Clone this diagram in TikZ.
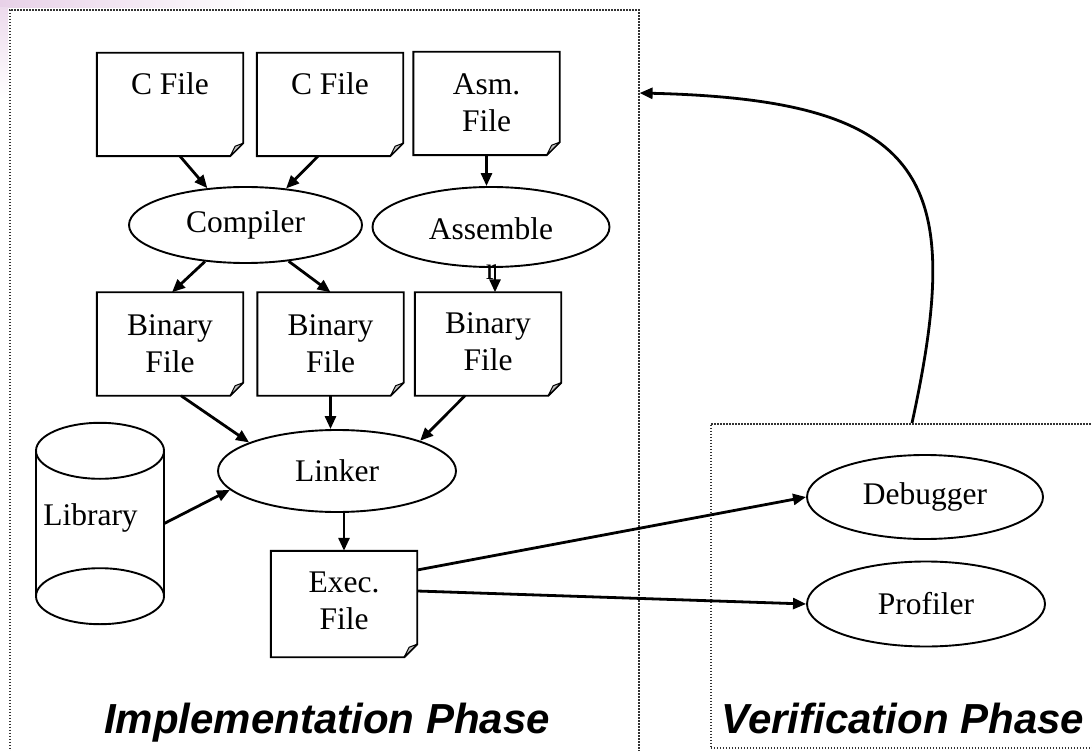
\documentclass[tikz,border=0pt]{standalone}
\usepackage{fontspec}
\setmainfont{Liberation Serif}
\newfontfamily\phasefont{Liberation Sans}
\usetikzlibrary{arrows.meta,shapes.geometric,calc}

\tikzset{
  txt/.style={font=\fontsize{31.5}{37}\selectfont, align=center, inner sep=0pt},
  docbox/.style={draw=none, minimum width=146pt, minimum height=103pt, inner sep=0pt},
  docline/.style={line width=1.9pt, line join=miter},
  proc/.style={ellipse, draw, line width=1.9pt, inner sep=0pt,
    font=\fontsize{31.5}{37}\selectfont},
  arr/.style={line width=2.8pt, -{Triangle[length=13pt,width=11pt]}},
  frame/.style={draw=black!80, line width=1.6pt, dash pattern=on 1.6pt off 1.4pt,
    inner sep=0pt},
  phase/.style={font=\phasefont\bfseries\itshape\fontsize{42}{50}\selectfont,
    inner sep=0pt, anchor=base},
}

% file symbol: rectangle with a folded bottom-right corner
\newcommand\docoutline[1]{%
  \draw[docline] (#1.north west) -- (#1.north east) -- ([yshift=13pt]#1.south east)
    -- ([xshift=-13pt]#1.south east) -- (#1.south west) -- cycle;
  \filldraw[line width=1pt, fill=black!25, line join=round]
    ([yshift=13pt]#1.south east) -- ([xshift=-8pt,yshift=10pt]#1.south east)
    -- ([xshift=-13pt]#1.south east) -- cycle;}

\begin{document}
\begin{tikzpicture}[x=1pt, y=1pt]
\clip (0,0) rectangle (1092,-751);
\fill[white] (0,0) rectangle (1092,-751);

% faint template decoration in the corner
\fill[left color=violet!18, right color=white] (0,0) rectangle (260,-8);
\fill[top color=violet!14, bottom color=white] (0,-8) rectangle (8,-100);

% phase frames
\node[frame, minimum width=629pt, minimum height=800pt, anchor=north west] (impl) at (9,-9) {};
\node[frame, minimum width=430pt, minimum height=324pt, anchor=north west] (ver) at (710,-423) {};

% source files
\node[docbox] (c1) at (170,-104.5) {};
\node[docbox] (c2) at (330,-104.5) {};
\node[docbox] (asm) at (486.5,-103.5) {};
\docoutline{c1}\docoutline{c2}\docoutline{asm}
\node[txt, anchor=north] (c1t) at ([yshift=-20pt]c1.north) {C File};
\node[txt, anchor=north] (c2t) at ([yshift=-20pt]c2.north) {C File};
\node[txt, anchor=north] (asmt) at ([yshift=-22pt]asm.north) {Asm.\\File};

% translators
\node[proc, minimum width=233pt, minimum height=76pt] (comp) at (245.5,-225) {Compiler};
\node[proc, minimum width=237pt, minimum height=80pt] (asmb) at (491,-227) {};

% object files
\node[docbox] (b1) at (170,-344) {};
\node[docbox] (b2) at (330.5,-344) {};
\node[docbox] (b3) at (488,-344) {};
\docoutline{b1}\docoutline{b2}\docoutline{b3}
\node[txt, anchor=north] (b1t) at ([yshift=-22pt]b1.north) {Binary\\File};
\node[txt, anchor=north] (b2t) at ([yshift=-22pt]b2.north) {Binary\\File};
\node[txt, anchor=north] (b3t) at ([yshift=-20pt]b3.north) {Binary\\File};

% library cylinder
\node[draw=none, minimum width=128pt, minimum height=201pt, inner sep=0pt] (lib) at (100,-523.5) {};
\draw[docline] ([yshift=-28pt]lib.north west) -- ([yshift=28pt]lib.south west);
\draw[docline] ([yshift=-28pt]lib.north east) -- ([yshift=28pt]lib.south east);
\draw[docline] ([yshift=-28pt]lib.north) ellipse [x radius=64, y radius=28];
\draw[docline] ([yshift=28pt]lib.south) ellipse [x radius=64, y radius=28];
\node[txt, anchor=base] (libt) at (90.5,-525) {Library};

% linker and executable
\node[proc, minimum width=238pt, minimum height=82pt] (link) at (337,-471) {Linker};
\node[docbox, minimum height=106pt] (exec) at (344,-604) {};
\docoutline{exec}
\node[txt, anchor=north] (exect) at ([yshift=-21pt]exec.north) {Exec.\\File};

% verification tools
\node[proc, minimum width=236pt, minimum height=84pt] (dbg) at (925,-497) {Debugger};
\node[proc, minimum width=238pt, minimum height=85pt] (prof) at (926,-604) {Profiler};

% connectors
\draw[arr] ([xshift=10pt]c1.south) -- (comp.136);
\draw[arr] ([xshift=-12pt]c2.south) -- (comp.42);
\draw[arr] (asm.south) -- (asm.south |- asmb.north);
\draw[arr] (comp.222) -- ([xshift=2pt]b1.north);
\draw[arr] (comp.-40) -- (b2.north);
\draw[arr] ([xshift=4pt]asmb.south) -- ([xshift=4pt]asmb.south |- b3.north);
\draw[arr] ([xshift=11pt]b1.south) -- (link.162);
\draw[arr] (b2.south) -- (b2.south |- link.north);
\draw[arr] ([xshift=-23pt]b3.south) -- (link.20);
\draw[arr] (lib.east) -- (link.190);
\draw[arr] (link.south -| exec.north) -- (exec.north);
\draw[arr] ([yshift=34pt]exec.east) -- (dbg.west);
\draw[arr] ([yshift=13pt]exec.east) -- (prof.west);
\draw[arr] ([xshift=202pt]ver.north west) .. controls (965,-180) and (930,-100) .. ([yshift=-84pt]impl.north east);

% assembler label, wrapped onto two lines and set over its outgoing arrow
\node[txt, anchor=north] (asmbt) at (491,-217.5) {Assemble\\[3pt]r};

% phase titles
\node[phase] (implt) at (327,-733) {Implementation Phase};
\node[phase] (vert) at (903,-733) {Verification Phase};
\end{tikzpicture}
\end{document}
